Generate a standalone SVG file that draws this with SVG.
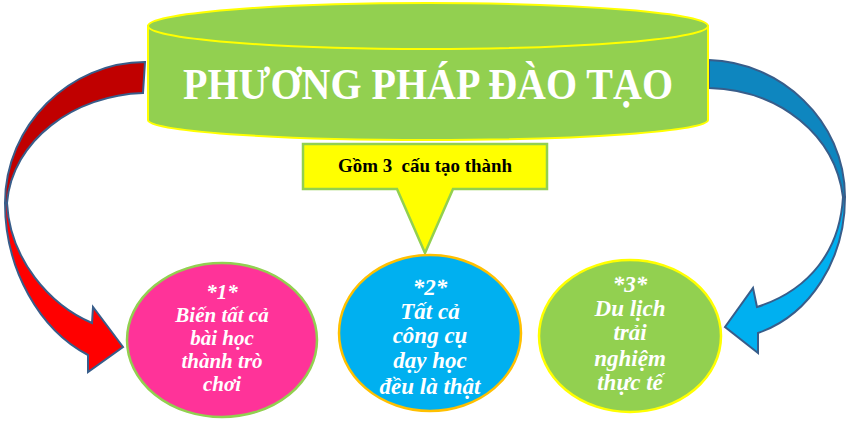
<svg xmlns="http://www.w3.org/2000/svg" width="854" height="427" viewBox="0 0 854 427">
<style>
.arrow{stroke:#385D8A;stroke-width:2;stroke-linejoin:miter}
.title{font-family:"Liberation Serif",serif;font-weight:bold;font-size:45px;fill:#FFFFFF}
.callout{font-family:"Liberation Serif",serif;font-weight:bold;font-size:19px;fill:#000000;white-space:pre}
.ct{font-family:"Liberation Serif",serif;font-weight:bold;font-style:italic;font-size:23px;fill:#FFFFFF;text-anchor:middle}
.ct1{font-size:21px}
</style>
<rect width="854" height="427" fill="#FFFFFF"/>
<g id="connectors">
  <g id="arrow-left">
    <path class="arrow" fill="#C00000" d="M145,62 C70,62 5,125 5,203 L7,203 C12,140 75,95 143,93 Z"/>
    <path class="arrow" fill="#FF0000" d="M5,203 C5,270 40,330 88,355 L88,372 L123,347 L93,307 L92,323 C50,305 10,260 7,203 Z"/>
  </g>
  <g id="arrow-right">
    <path class="arrow" fill="#0E86BF" d="M709,60 C780,62 845,120 845,197 L843,197 C835,135 780,90 709,88 Z"/>
    <path class="arrow" fill="#00B0F0" d="M845,197 C845,260 810,315 758,333 L758,353 L725,327 L753,288 L757,307 C810,290 840,250 843,197 Z"/>
  </g>
</g>
<g id="cylinder">
  <path d="M148,26 V120 A280,20 0 0 0 708,120 V26 Z" fill="#92D050" stroke="#FFFF00" stroke-width="2"/>
  <ellipse cx="428" cy="26" rx="280" ry="23" fill="#92D050" stroke="#FFFF00" stroke-width="2"/>
  <text class="title" x="428" y="99" text-anchor="middle" textLength="490" lengthAdjust="spacingAndGlyphs">PHƯƠNG PHÁP ĐÀO TẠO</text>
</g>
<g id="callout">
  <path d="M303,144 H547 V189 H453 L425,253 L397,189 H303 Z" fill="#FFFF00" stroke="#92D050" stroke-width="2.5" stroke-linejoin="miter"/>
  <text class="callout" x="425" y="172" text-anchor="middle" textLength="174" lengthAdjust="spacingAndGlyphs">Gồm 3  cấu tạo thành</text>
</g>
<g id="node1">
  <ellipse cx="222" cy="340" rx="95" ry="77" fill="#FF3399" stroke="#92D050" stroke-width="2.5"/>
  <text class="ct ct1" x="222" y="299">*1*</text>
  <text class="ct ct1" x="222" y="322">Biến  tất cả</text>
  <text class="ct ct1" x="222" y="345">bài học</text>
  <text class="ct ct1" x="222" y="368">thành trò</text>
  <text class="ct ct1" x="222" y="391">chơi</text>
</g>
<g id="node2">
  <ellipse cx="430" cy="333" rx="91" ry="78" fill="#00B0F0" stroke="#FFC000" stroke-width="2.5"/>
  <text class="ct" x="430" y="295">*2*</text>
  <text class="ct" x="430" y="319">Tất cả</text>
  <text class="ct" x="430" y="343">công cụ</text>
  <text class="ct" x="430" y="368">dạy học</text>
  <text class="ct" x="430" y="394">đều là thật</text>
</g>
<g id="node3">
  <ellipse cx="630" cy="336" rx="91" ry="76" fill="#92D050" stroke="#FFFF00" stroke-width="2.5"/>
  <text class="ct" x="630" y="292">*3*</text>
  <text class="ct" x="630" y="316">Du lịch</text>
  <text class="ct" x="630" y="340">trải</text>
  <text class="ct" x="630" y="366">nghiệm</text>
  <text class="ct" x="630" y="390">thực tế</text>
</g>
</svg>
